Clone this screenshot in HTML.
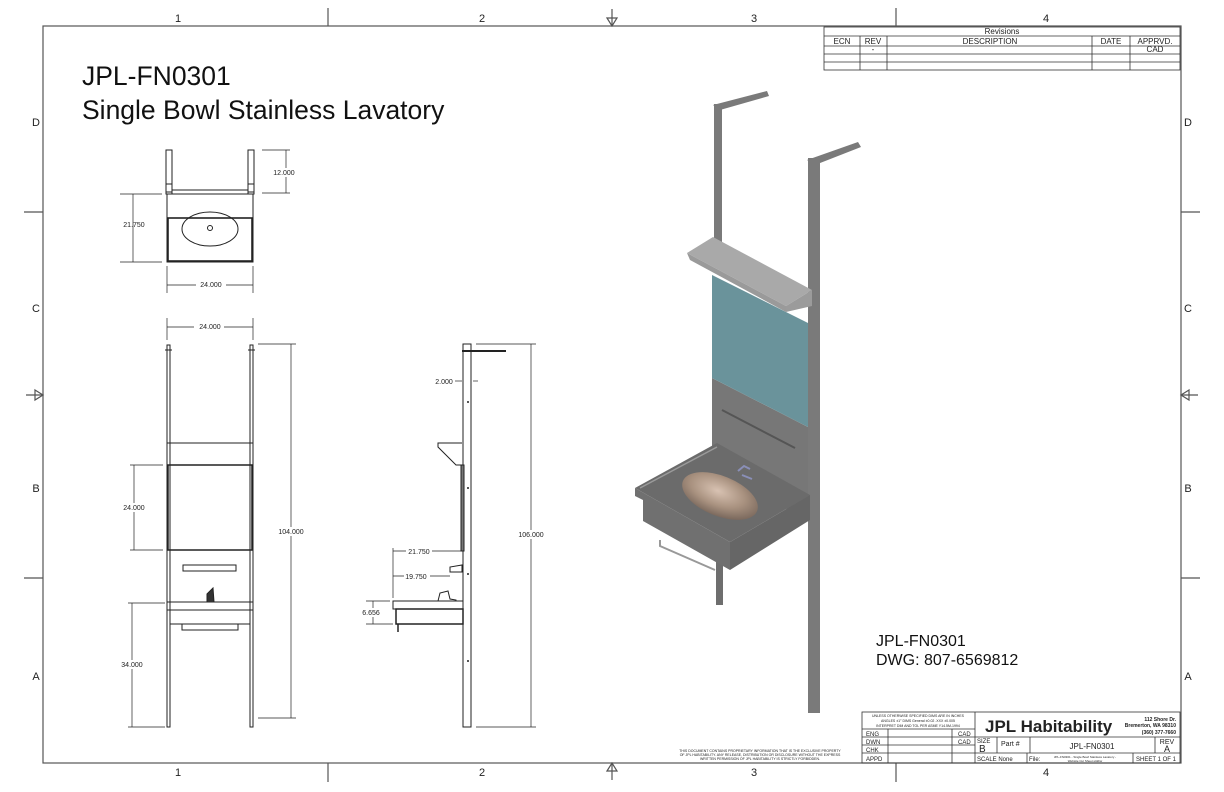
<!DOCTYPE html>
<html><head><meta charset="utf-8"><style>
html,body{margin:0;padding:0;background:#fff;}
svg{display:block;font-family:"Liberation Sans",sans-serif;}
</style></head><body>
<svg width="1224" height="792" viewBox="0 0 1224 792" xmlns="http://www.w3.org/2000/svg">
<defs>
<radialGradient id="bowl" cx="0.45" cy="0.4" r="0.6"><stop offset="0" stop-color="#d8c2b2"/><stop offset="0.6" stop-color="#a8917f"/><stop offset="1" stop-color="#7c6a5e"/></radialGradient>
</defs>
<g stroke="#555" fill="none" stroke-width="1.2">
<rect x="43" y="26" width="1138" height="737"/>
<line x1="328" y1="8" x2="328" y2="26"/><line x1="896" y1="8" x2="896" y2="26"/>
<line x1="328" y1="763" x2="328" y2="782"/><line x1="896" y1="763" x2="896" y2="782"/>
<line x1="24" y1="212" x2="43" y2="212"/><line x1="24" y1="578" x2="43" y2="578"/>
<line x1="1181" y1="212" x2="1200" y2="212"/><line x1="1181" y1="578" x2="1200" y2="578"/>
<line x1="612" y1="9" x2="612" y2="26"/><path d="M607 18 L612 26 L617 18 Z"/>
<line x1="612" y1="763" x2="612" y2="780"/><path d="M607 771 L612 763 L617 771 Z"/>
<line x1="26" y1="395" x2="43" y2="395"/><path d="M35 390 L43 395 L35 400 Z"/>
<line x1="1181" y1="395" x2="1198" y2="395"/><path d="M1189 390 L1181 395 L1189 400 Z"/>
</g>
<g font-size="11" fill="#222" text-anchor="middle">
<text x="178" y="22">1</text><text x="482" y="22">2</text><text x="754" y="22">3</text><text x="1046" y="22">4</text>
<text x="178" y="776">1</text><text x="482" y="776">2</text><text x="754" y="776">3</text><text x="1046" y="776">4</text>
<text x="36" y="126">D</text><text x="36" y="312">C</text><text x="36" y="492">B</text><text x="36" y="680">A</text>
<text x="1188" y="126">D</text><text x="1188" y="312">C</text><text x="1188" y="492">B</text><text x="1188" y="680">A</text>
</g>
<text x="82" y="85" font-size="26.5" fill="#111">JPL-FN0301</text>
<text x="82" y="119" font-size="26.5" fill="#111">Single Bowl Stainless Lavatory</text>
<text x="876" y="646" font-size="16" fill="#111">JPL-FN0301</text>
<text x="876" y="665" font-size="16" fill="#111">DWG: 807-6569812</text>
<g stroke="#333" fill="none" stroke-width="0.8">
<rect x="824" y="27" width="356" height="43"/>
<line x1="824" y1="36" x2="1180" y2="36"/><line x1="824" y1="46" x2="1180" y2="46"/>
<line x1="824" y1="54" x2="1180" y2="54"/><line x1="824" y1="62" x2="1180" y2="62"/>
<line x1="860" y1="36" x2="860" y2="70"/><line x1="887" y1="36" x2="887" y2="70"/>
<line x1="1092" y1="36" x2="1092" y2="70"/><line x1="1130" y1="36" x2="1130" y2="70"/>
</g>
<g font-size="8" fill="#222" text-anchor="middle">
<text x="1002" y="34">Revisions</text>
<text x="842" y="44">ECN</text><text x="873" y="44">REV</text><text x="990" y="44">DESCRIPTION</text><text x="1111" y="44">DATE</text><text x="1155" y="44">APPRVD.</text>
<text x="873" y="52">-</text><text x="1155" y="52">CAD</text>
</g>
<g stroke="#333" fill="none" stroke-width="0.8">
<rect x="862" y="712" width="318" height="51"/>
<line x1="862" y1="729" x2="975" y2="729"/><line x1="862" y1="737" x2="1180" y2="737"/>
<line x1="862" y1="745" x2="975" y2="745"/><line x1="862" y1="753" x2="1180" y2="753"/>
<line x1="888" y1="729" x2="888" y2="763"/><line x1="952" y1="729" x2="952" y2="763"/>
<line x1="975" y1="712" x2="975" y2="763"/><line x1="997" y1="737" x2="997" y2="753"/>
<line x1="1030" y1="737" x2="1030" y2="753"/><line x1="1155" y1="737" x2="1155" y2="753"/>
<line x1="1027" y1="753" x2="1027" y2="763"/><line x1="1133" y1="753" x2="1133" y2="763"/>
</g>
<g fill="#222">
<text x="918" y="717" font-size="3.5" text-anchor="middle">UNLESS OTHERWISE SPECIFIED DIMS ARE IN INCHES</text>
<text x="918" y="722" font-size="3.5" text-anchor="middle">ANGLES ±1°  DIMS General ±0.02  .XXX ±0.005</text>
<text x="918" y="727" font-size="3.5" text-anchor="middle">INTERPRET DIM AND TOL PER ASME Y14.5M-1994</text>
<text x="866" y="736" font-size="6">ENG</text><text x="958" y="736" font-size="6">CAD</text>
<text x="866" y="744" font-size="6">DWN</text><text x="958" y="744" font-size="6">CAD</text>
<text x="866" y="752" font-size="6">CHK</text><text x="866" y="761" font-size="6">APPD</text>
<text x="985" y="732" font-size="17" font-weight="bold">JPL Habitability</text>
<text x="1176" y="721" font-size="5" text-anchor="end" font-weight="bold">112  Shore Dr.</text>
<text x="1176" y="727" font-size="5" text-anchor="end" font-weight="bold">Bremerton, WA 98310</text>
<text x="1176" y="734" font-size="5" text-anchor="end" font-weight="bold">(360) 377-7660</text>
<text x="977" y="743" font-size="6">SIZE</text><text x="979" y="752" font-size="10">B</text>
<text x="1001" y="746" font-size="7">Part #</text>
<text x="1092" y="749" font-size="8" text-anchor="middle">JPL-FN0301</text>
<text x="1167" y="744" font-size="7" text-anchor="middle">REV</text><text x="1167" y="752" font-size="9" text-anchor="middle">A</text>
<text x="977" y="761" font-size="6">SCALE  None</text>
<text x="1029" y="761" font-size="6">File:</text>
<text x="1085" y="758" font-size="3" text-anchor="middle">JPL-FN0301 - Single Bowl Stainless Lavatory -</text>
<text x="1085" y="762" font-size="3" text-anchor="middle">Website Cut Sheet.slddrw</text>
<text x="1156" y="761" font-size="6" text-anchor="middle">SHEET 1 OF 1</text>
<text x="760" y="752" font-size="3.5" text-anchor="middle">THIS DOCUMENT CONTAINS PROPRIETARY INFORMATION THAT IS THE EXCLUSIVE PROPERTY</text>
<text x="760" y="756" font-size="3.5" text-anchor="middle">OF JPL HABITABILITY.  ANY RELEASE, DISTRIBUTION OR DISCLOSURE WITHOUT THE EXPRESS</text>
<text x="760" y="760" font-size="3.5" text-anchor="middle">WRITTEN PERMISSION OF JPL HABITABILITY IS STRICTLY FORBIDDEN.</text>
</g>
<g stroke="#222" fill="none" stroke-width="1">
<rect x="166" y="150" width="6" height="44"/><rect x="248" y="150" width="6" height="44"/>
<rect x="166" y="184" width="6" height="8"/><rect x="248" y="184" width="6" height="8"/>
<line x1="172" y1="190" x2="248" y2="190"/>
<rect x="167" y="194" width="86" height="68"/>
<rect x="168" y="218" width="84" height="43" stroke-width="1.6"/>
<ellipse cx="210" cy="229" rx="28" ry="17"/>
<circle cx="210" cy="228" r="2.5"/>
<g stroke-width="0.7">
<line x1="262" y1="150" x2="290" y2="150"/><line x1="262" y1="193" x2="290" y2="193"/><line x1="286" y1="150" x2="286" y2="193"/>
<line x1="120" y1="194" x2="162" y2="194"/><line x1="120" y1="262" x2="162" y2="262"/><line x1="133" y1="194" x2="133" y2="262"/>
<line x1="167" y1="266" x2="167" y2="293"/><line x1="253" y1="266" x2="253" y2="293"/><line x1="167" y1="285" x2="253" y2="285"/>
</g></g>
<g font-size="7" fill="#222" text-anchor="middle">
<rect x="270" y="168" width="30" height="9" fill="#fff"/><text x="284" y="175">12.000</text>
<text x="134" y="227">21.750</text>
<rect x="196" y="280" width="30" height="9" fill="#fff"/><text x="211" y="287">24.000</text>
</g>
<g stroke="#222" fill="none" stroke-width="1">
<rect x="167" y="345" width="3" height="382"/><rect x="250" y="345" width="3" height="382"/>
<line x1="165" y1="350" x2="172" y2="350"/><line x1="248" y1="350" x2="255" y2="350"/>
<rect x="167" y="443" width="86" height="22"/>
<rect x="168" y="465" width="84" height="85" stroke-width="1.5"/>
<rect x="183" y="565" width="53" height="6"/>
<rect x="167" y="602" width="86" height="8"/>
<rect x="170" y="610" width="80" height="14"/>
<path d="M182 624 L182 630 L238 630 L238 624"/>
<path d="M207 602 L207 594 L213 588 L214 602" fill="#333"/>
<g stroke-width="0.7">
<line x1="167" y1="318" x2="167" y2="340"/><line x1="253" y1="318" x2="253" y2="340"/><line x1="167" y1="327" x2="253" y2="327"/>
<line x1="258" y1="344" x2="296" y2="344"/><line x1="258" y1="718" x2="296" y2="718"/><line x1="291" y1="344" x2="291" y2="718"/>
<line x1="130" y1="465" x2="163" y2="465"/><line x1="130" y1="550" x2="163" y2="550"/><line x1="134" y1="465" x2="134" y2="550"/>
<line x1="128" y1="603" x2="165" y2="603"/><line x1="128" y1="727" x2="165" y2="727"/><line x1="132" y1="603" x2="132" y2="727"/>
</g></g>
<g font-size="7" fill="#222" text-anchor="middle">
<rect x="194" y="322" width="30" height="9" fill="#fff"/><text x="210" y="329">24.000</text>
<rect x="276" y="527" width="32" height="9" fill="#fff"/><text x="291" y="534">104.000</text>
<rect x="120" y="503" width="30" height="9" fill="#fff"/><text x="134" y="510">24.000</text>
<rect x="118" y="660" width="30" height="9" fill="#fff"/><text x="132" y="667">34.000</text>
</g>
<g stroke="#222" fill="none" stroke-width="1">
<rect x="463" y="344" width="8" height="383"/>
<line x1="462" y1="351" x2="506" y2="351" stroke-width="2"/>
<path d="M462 443 L438 443 L438 447 L456 465 L462 465"/>
<rect x="461" y="465" width="3" height="86" fill="#777"/>
<path d="M450 572 L450 567 L462 565 L462 572 Z"/>
<path d="M438 601 L440 593 L448 591 L450 599 L456 600 L456 601"/>
<rect x="393" y="601" width="70" height="8"/>
<rect x="396" y="609" width="67" height="15" stroke-width="1.5"/>
<line x1="398" y1="624" x2="398" y2="632" stroke-width="1.5"/>
<g fill="#222" stroke="none"><circle cx="468" cy="402" r="1"/><circle cx="468" cy="488" r="1"/><circle cx="468" cy="574" r="1"/><circle cx="468" cy="661" r="1"/></g>
<g stroke-width="0.7">
<line x1="476" y1="344" x2="536" y2="344"/><line x1="476" y1="727" x2="536" y2="727"/><line x1="531" y1="344" x2="531" y2="727"/>
<line x1="393" y1="548" x2="393" y2="598"/><line x1="393" y1="551" x2="463" y2="551"/><line x1="393" y1="576" x2="450" y2="576"/>
<line x1="366" y1="601" x2="390" y2="601"/><line x1="366" y1="624" x2="393" y2="624"/><line x1="373" y1="601" x2="373" y2="624"/>
<line x1="455" y1="381" x2="462" y2="381"/><line x1="473" y1="381" x2="478" y2="381"/>
</g></g>
<g font-size="7" fill="#222" text-anchor="middle">
<text x="444" y="384">2.000</text>
<rect x="516" y="530" width="32" height="9" fill="#fff"/><text x="531" y="537">106.000</text>
<rect x="406" y="547" width="26" height="9" fill="#fff"/><text x="419" y="554">21.750</text>
<rect x="404" y="572" width="26" height="9" fill="#fff"/><text x="416" y="579">19.750</text>
<rect x="360" y="608" width="22" height="9" fill="#fff"/><text x="371" y="615">6.656</text>
</g>
<g stroke="none">
<polygon points="713,105 767,91 769,96 720,110" fill="#7a7a7a"/>
<rect x="714" y="104" width="8" height="150" fill="#7a7a7a"/>
<rect x="716" y="560" width="7" height="45" fill="#6e6e6e"/>
<polygon points="807,160 858,142 861,147 815,165" fill="#7a7a7a"/>
<rect x="808" y="158" width="12" height="555" fill="#7a7a7a"/>
<polygon points="712,378 808,427 808,520 712,470" fill="#777"/>
<line x1="722" y1="410" x2="795" y2="448" stroke="#555" stroke-width="2"/>
<polygon points="712,275 808,323 808,427 712,378" fill="#6a939b"/>
<polygon points="687,253 713,237 812,290 786,306" fill="#a9a9a9"/>
<polygon points="687,253 786,306 786,312 690,260" fill="#9a9a9a"/>
<polygon points="786,306 812,290 812,306 786,312" fill="#9b9b9b"/>
<polygon points="635,488 717,443 810,495 730,542" fill="#6b6b6b"/>
<polygon points="635,488 730,542 730,570 643,521 643,500 635,496" fill="#707070"/>
<polygon points="730,542 810,495 810,520 730,570" fill="#666"/>
<line x1="640" y1="488" x2="717" y2="447" stroke="#9a9a9a" stroke-width="1.5"/>
<ellipse cx="720" cy="496" rx="40" ry="20" transform="rotate(22 720 496)" fill="url(#bowl)"/>
<path d="M738 471 l6 -5 l6 3 M742 475 l10 4" stroke="#8a8fb8" stroke-width="2" fill="none"/>
<path d="M660 540 L660 546 L715 570" stroke="#999" stroke-width="2" fill="none"/>
</g>
</svg>
</body></html>
